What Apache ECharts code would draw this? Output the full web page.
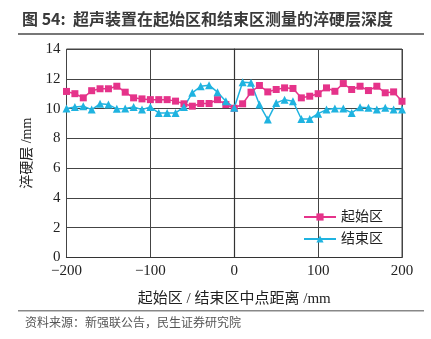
<!DOCTYPE html>
<html><head><meta charset="utf-8">
<script src="https://cdn.jsdelivr.net/npm/echarts@6/dist/echarts.min.js"></script>
<style>html,body{margin:0;padding:0;background:#fff;}#c{width:431px;height:339px;}</style>
</head><body><div id="c"></div>
<script>
const xPositions = [-200,-190,-180,-170,-160,-150,-140,-130,-120,-110,-100,-90,-80,-70,-60,-50,-40,-30,-20,-10,0,10,20,30,40,50,60,70,80,90,100,110,120,130,140,150,160,170,180,190,200];
const startZone = [11.15,11.0,10.72,11.2,11.33,11.33,11.5,11.1,10.72,10.65,10.6,10.6,10.6,10.5,10.32,10.16,10.34,10.34,10.6,10.27,10.02,10.32,11.1,11.55,11.12,11.28,11.39,11.35,10.72,10.83,11.0,11.39,11.16,11.68,11.28,11.5,11.21,11.5,11.06,11.12,10.49];
const endZone = [10.0,10.1,10.16,9.93,10.32,10.27,9.98,10.0,10.1,9.93,10.1,9.71,9.71,9.71,10.1,11.06,11.5,11.57,11.1,10.49,10.05,11.77,11.73,10.27,9.26,10.38,10.6,10.49,9.3,9.3,9.66,9.93,10.0,10.0,9.71,10.09,10.05,9.93,10.05,9.93,9.93];
const seriesNames = ['起始区','结束区'];
const titleText = '图 54:  超声装置在起始区和结束区测量的淬硬层深度';
const sourceText = '资料来源：新强联公告，民生证券研究院';
const xName = '起始区 / 结束区中点距离 /mm';
const yName = '淬硬层 /mm';

const serif = '"Liberation Serif","Noto Sans CJK SC",serif';
const chart = echarts.init(document.getElementById('c'), null, {renderer:'canvas'});
chart.setOption({
  animation:false,
  backgroundColor:'#fff',
  graphic:[
    {type:'text', left:22, top:11, style:{text:titleText, font:'bold 16px "Noto Sans CJK SC"', fill:'#3a3a3a'}},
    {type:'rect', shape:{x:18,y:33,width:406,height:2}, style:{fill:'#777'}},
    {type:'rect', shape:{x:18,y:310,width:406,height:1.5}, style:{fill:'#888'}},
    {type:'text', left:25, top:316, style:{text:sourceText, font:'12px "Noto Sans CJK SC"', fill:'#555'}}
  ],
  grid:{left:66.5, right:29, top:49, bottom:81.5, show:true, borderColor:'#444', borderWidth:1},
  legend:{
    data:seriesNames, orient:'vertical', left:298, top:205, itemWidth:32, itemHeight:9, itemGap:8,
    textStyle:{fontFamily:serif, fontSize:14, color:'#222'}
  },
  xAxis:{
    type:'value', min:-200, max:200, interval:100,
    name:xName, nameLocation:'middle', nameGap:34,
    nameTextStyle:{fontFamily:serif, fontSize:15, color:'#222'},
    axisLine:{onZero:false, lineStyle:{color:'#333', width:1.2}},
    axisTick:{show:false},
    axisLabel:{fontFamily:serif, fontSize:15, color:'#222', margin:6, formatter:v=> v<0 ? '\u2212'+(-v) : ''+v},
    splitLine:{show:true, lineStyle:{color:'#444', width:1}}
  },
  yAxis:{
    type:'value', min:0, max:14, interval:2,
    name:yName, nameLocation:'middle', nameGap:22, nameRotate:90,
    nameTextStyle:{fontFamily:serif, fontSize:14, color:'#222'},
    axisLine:{show:true, lineStyle:{color:'#333', width:1.2}},
    axisTick:{show:false},
    axisLabel:{fontFamily:serif, fontSize:15, color:'#222', margin:6},
    splitLine:{show:true, lineStyle:{color:'#444', width:1}}
  },
  series:[
    {name:seriesNames[0], type:'line', data:xPositions.map((x,i)=>[x,startZone[i]]),
     symbol:'rect', symbolSize:7, lineStyle:{color:'#E5338A', width:1.5}, itemStyle:{color:'#E5338A'}},
    {name:seriesNames[1], type:'line', data:xPositions.map((x,i)=>[x,endZone[i]]),
     symbol:'triangle', symbolSize:8, lineStyle:{color:'#1FB3E0', width:1.5}, itemStyle:{color:'#1FB3E0'}}
  ]
});
</script></body></html>
